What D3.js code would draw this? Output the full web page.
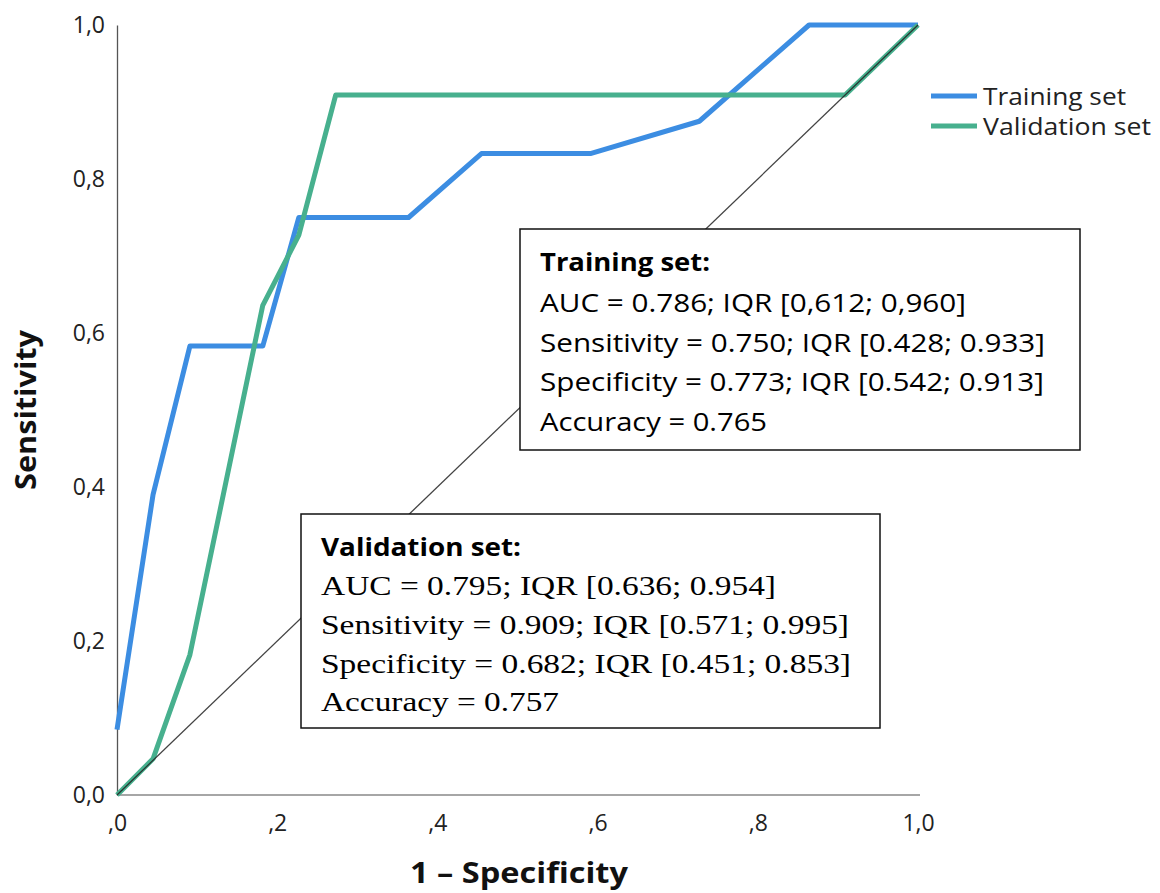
<!DOCTYPE html>
<html>
<head>
<meta charset="utf-8">
<script src="https://cdn.jsdelivr.net/npm/d3@7"></script>
<style>
  body { margin: 0; background: #fff; }
</style>
</head>
<body>
<div id="chart"></div>
<script>
// ROC curves (1 - specificity, sensitivity)
var trainFpr  = [0, 0.045, 0.091, 0.182, 0.227, 0.364, 0.455, 0.591, 0.727, 0.864, 1.0];
var trainSens = [0.085, 0.39, 0.583, 0.583, 0.75, 0.75, 0.833, 0.833, 0.875, 1.0, 1.0];

var validFpr  = [0, 0.045, 0.091, 0.182, 0.227, 0.273, 0.909, 1.0];
var validSens = [0, 0.047, 0.182, 0.636, 0.727, 0.909, 0.909, 1.0];

var xTicks = [0, 0.2, 0.4, 0.6, 0.8, 1.0];
var yTicks = [0, 0.2, 0.4, 0.6, 0.8, 1.0];

var seriesNames  = ["Training set", "Validation set"];
var seriesColors = ["#3c8de2", "#47b08e"];
var legendWidths = [143, 168];

var trainLines = [
  "AUC = 0.786; IQR [0,612; 0,960]",
  "Sensitivity = 0.750; IQR [0.428; 0.933]",
  "Specificity = 0.773; IQR [0.542; 0.913]",
  "Accuracy = 0.765"
];
var trainWidths = [426, 505, 504, 227];

var validLines = [
  "AUC = 0.795; IQR [0.636; 0.954]",
  "Sensitivity = 0.909; IQR [0.571; 0.995]",
  "Specificity = 0.682; IQR [0.451; 0.853]",
  "Accuracy = 0.757"
];
var validWidths = [455, 528, 530, 238];

var width = 1160,
    height = 893;

var svg = d3.select('#chart')
    .append('svg')
    .attr('width', width)
    .attr('height', height);

var x = d3.scaleLinear().domain([0, 1]).range([117, 918]);
var y = d3.scaleLinear().domain([0, 1]).range([795, 25]);

var comma = function (v) { return d3.format(".1f")(v).replace(".", ","); };

// axes
var yAxis = svg.append('g')
    .attr('transform', 'translate(' + x(0) + ',0)')
    .call(d3.axisLeft(y).tickValues(yTicks).tickSize(0).tickPadding(12).tickFormat(comma));
yAxis.select('.domain').attr('stroke', '#555').attr('stroke-width', 1.3);
yAxis.selectAll('text')
    .style('font-family', '"Open Sans", sans-serif')
    .style('font-size', '23px')
    .attr('fill', '#222');

var xAxis = svg.append('g')
    .attr('transform', 'translate(0,' + y(0) + ')')
    .call(d3.axisBottom(x).tickValues(xTicks).tickSize(0).tickPadding(20)
        .tickFormat(function (v) { return v === 1 ? "1,0" : comma(v).replace(/^0/, ""); }));
xAxis.select('.domain').attr('stroke', '#888').attr('stroke-width', 1.3)
    .attr('d', 'M' + x(0) + ',0H' + (x(1) + 2));
xAxis.selectAll('text')
    .style('font-family', '"Open Sans", sans-serif')
    .style('font-size', '23px')
    .attr('fill', '#222');

// axis titles
svg.append('text')
    .attr('x', 519)
    .attr('y', 883)
    .attr('text-anchor', 'middle')
    .attr('textLength', 218)
    .attr('lengthAdjust', 'spacingAndGlyphs')
    .style('font-family', '"Open Sans", sans-serif')
    .style('font-size', '28px')
    .style('font-weight', 'bold')
    .attr('fill', '#111')
    .text('1 \u2013 Specificity');

svg.append('text')
    .attr('transform', 'translate(36,410) rotate(-90)')
    .attr('text-anchor', 'middle')
    .attr('textLength', 160)
    .attr('lengthAdjust', 'spacingAndGlyphs')
    .style('font-family', '"Open Sans", sans-serif')
    .style('font-size', '28px')
    .style('font-weight', 'bold')
    .attr('fill', '#111')
    .text('Sensitivity');

// curves
var line = d3.line()
    .x(function (d) { return x(d[0]); })
    .y(function (d) { return y(d[1]); });

var trainData = d3.zip(trainFpr, trainSens);
var validData = d3.zip(validFpr, validSens);

svg.append('path')
    .datum(trainData)
    .attr('fill', 'none')
    .attr('stroke', seriesColors[0])
    .attr('stroke-width', 5)
    .attr('stroke-linejoin', 'round')
    .attr('d', line);

svg.append('path')
    .datum(validData)
    .attr('fill', 'none')
    .attr('stroke', seriesColors[1])
    .attr('stroke-width', 5)
    .attr('stroke-linejoin', 'round')
    .attr('d', line);

// reference diagonal
svg.append('path')
    .datum([[0, 0], [1, 1]])
    .attr('fill', 'none')
    .attr('stroke', '#222')
    .attr('stroke-opacity', 0.85)
    .attr('stroke-width', 1.3)
    .attr('d', line);

// legend
var legend = svg.append('g');
seriesNames.forEach(function (name, i) {
    var ly = 96 + i * 30;
    legend.append('line')
        .attr('x1', 931).attr('x2', 977)
        .attr('y1', ly).attr('y2', ly)
        .attr('stroke', seriesColors[i])
        .attr('stroke-width', 5);
    legend.append('text')
        .attr('x', 983)
        .attr('y', ly + 9)
        .attr('textLength', legendWidths[i])
        .attr('lengthAdjust', 'spacingAndGlyphs')
        .style('font-family', '"Open Sans", sans-serif')
        .style('font-size', '24px')
        .attr('fill', '#222')
        .text(name);
});

// stat boxes
function statBox(bx, by, bw, bh, title, titleW, lines, widths, font, size, base, step) {
    var g = svg.append('g');
    g.append('rect')
        .attr('x', bx).attr('y', by)
        .attr('width', bw).attr('height', bh)
        .attr('fill', '#fff')
        .attr('stroke', '#111')
        .attr('stroke-width', 1.5);
    g.append('text')
        .attr('x', bx + 20)
        .attr('y', by + 42)
        .attr('textLength', titleW)
        .attr('lengthAdjust', 'spacingAndGlyphs')
        .style('font-family', '"Open Sans", sans-serif')
        .style('font-size', '25px')
        .style('font-weight', 'bold')
        .attr('fill', '#000')
        .text(title);
    g.selectAll('text.line')
        .data(lines)
        .enter()
        .append('text')
        .attr('class', 'line')
        .attr('x', bx + 20)
        .attr('y', function (d, i) { return by + base + i * step; })
        .attr('textLength', function (d, i) { return widths[i]; })
        .attr('lengthAdjust', 'spacingAndGlyphs')
        .style('font-family', font)
        .style('font-size', size)
        .attr('fill', '#000')
        .text(function (d) { return d; });
}

statBox(520, 229, 560, 221, 'Training set:', 170, trainLines, trainWidths,
    '"Open Sans", sans-serif', '26px', 83, 39.5);
statBox(301, 514, 579, 214, 'Validation set:', 200, validLines, validWidths,
    '"Liberation Serif", "Times New Roman", serif', '28px', 81, 38.8);
</script>
</body>
</html>
